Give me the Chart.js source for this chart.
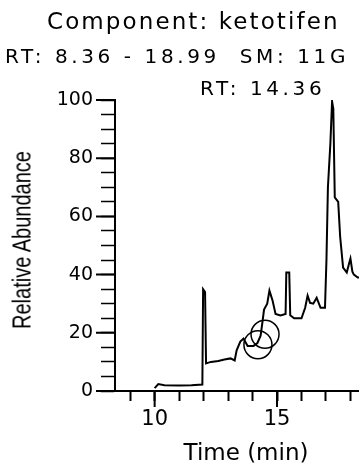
<!DOCTYPE html>
<html>
<head>
<meta charset="utf-8">
<script src="https://cdn.jsdelivr.net/npm/chart.js@4.4.1/dist/chart.umd.min.js"></script>
<style>
    body { margin: 0; background: #fff; }
    #wrap { position: relative; width: 359px; height: 464px; overflow: hidden; }
    .t { position: absolute; font-family: "DejaVu Sans", sans-serif; color: #000; line-height: 1; white-space: pre; }
    #ytitle {
        position: absolute; left: 22px; top: 240px;
        font-family: "Liberation Sans", sans-serif; font-size: 25px; line-height: 1; white-space: pre; color: #000;
        transform: translate(-50%, -50%) rotate(-90deg) scaleX(0.8);
    }
    #xtitle {
        position: absolute; left: 246px; top: 452px;
        font-family: "DejaVu Sans", sans-serif; font-size: 23px; line-height: 1; white-space: pre; color: #000;
        transform: translate(-50%, -50%);
    }
</style>
</head>
<body>
<div id="wrap">
    <canvas id="chrom" width="359" height="464"></canvas>
    <div class="t" style="left:47px;top:10px;font-size:23px;letter-spacing:2.1px">Component: ketotifen</div>
    <div class="t" style="left:5px;top:46px;font-size:20px;letter-spacing:3.6px">RT: 8.36 - 18.99  SM: 11G</div>
    <div class="t" style="left:200px;top:78px;font-size:20px;letter-spacing:3.6px">RT: 14.36</div>
    <div id="ytitle">Relative Abundance</div>
    <div id="xtitle">Time (min)</div>
</div>
<script>
// chromatogram trace
const timeMin = [10.0, 10.15, 10.4, 11.0, 11.5, 11.95, 11.98, 12.06, 12.1, 12.3, 12.6, 12.85, 13.1, 13.27,
    13.35, 13.5, 13.63, 13.8, 14.04, 14.2, 14.33, 14.41, 14.47, 14.6, 14.69, 14.82, 14.94, 15.14, 15.35,
    15.38, 15.5, 15.54, 15.7, 16.0, 16.15, 16.25, 16.35, 16.48, 16.62, 16.78, 16.96, 17.02, 17.08, 17.18,
    17.25, 17.3, 17.36, 17.5, 17.58, 17.7, 17.85, 17.95, 18.0, 18.08, 18.14, 18.3, 18.4];
const abundance = [1.0, 2.4, 2.0, 1.9, 2.0, 2.2, 35, 34, 9.5, 10.0, 10.3, 10.8, 11.2, 10.5,
    14, 17, 18, 15.5, 15.5, 16.5, 19, 24, 28, 30, 34.5, 31, 26.5, 26, 26.5,
    40.7, 40.7, 26, 25, 25, 28.6, 32.8, 30.3, 30, 32, 28.6, 28.6, 45, 70, 85,
    99.5, 97, 66.5, 65, 53, 42.4, 40.7, 44, 45.5, 41, 40, 39, 39];

// hand-drawn circle marks near RT 14.36
const markTime = [14.22, 14.51];
const markAbund = [15.9, 19.5];

const xTicks = [9, 10, 11, 12, 13, 14, 15, 16, 17, 18];
const xLabels = [10, 15];
const yTicks = [0, 5, 10, 15, 20, 25, 30, 35, 40, 45, 50, 55, 60, 65, 70, 75, 80, 85, 90, 95, 100];
const yLabels = [0, 20, 40, 60, 80, 100];

const trace = timeMin.map((t, i) => ({ x: t, y: abundance[i] }));
const marks = markTime.map((t, i) => ({ x: t, y: markAbund[i] }));

// longer tick marks at the labelled values
const majorTicks = {
    id: "majorTicks",
    afterDraw(chart) {
        const { ctx, scales: { x, y } } = chart;
        ctx.save();
        ctx.strokeStyle = "#000";
        ctx.lineWidth = 2;
        ctx.beginPath();
        xLabels.forEach((v) => {
            const px = x.getPixelForValue(v);
            ctx.moveTo(px, x.top);
            ctx.lineTo(px, x.top + 16);
        });
        yLabels.forEach((v) => {
            const py = y.getPixelForValue(v);
            ctx.moveTo(y.right, py);
            ctx.lineTo(y.right - 19, py);
        });
        ctx.stroke();
        ctx.restore();
    },
};

const ctx = document.getElementById("chrom").getContext("2d");
new Chart(ctx, {
    type: "scatter",
    data: {
        datasets: [
            {
                data: trace,
                showLine: true,
                borderColor: "#000",
                borderWidth: 2,
                pointRadius: 0,
                tension: 0,
            },
            {
                data: marks,
                showLine: false,
                pointRadius: 14,
                pointBorderWidth: 1.5,
                pointBorderColor: "#000",
                pointBackgroundColor: "rgba(0,0,0,0)",
                clip: false,
            },
        ],
    },
    plugins: [majorTicks],
    options: {
        responsive: false,
        animation: false,
        events: [],
        layout: { autoPadding: false, padding: { top: 100, right: 0, bottom: 0, left: 0 } },
        plugins: { legend: { display: false }, tooltip: { enabled: false } },
        scales: {
            x: {
                type: "linear",
                min: 8.38,
                max: 18.35,
                afterBuildTicks: (s) => { s.ticks = xTicks.map((v) => ({ value: v })); },
                afterFit: (s) => { s.height = 73; s.paddingLeft = 0; s.paddingRight = 0; },
                border: { display: true, color: "#000", width: 2 },
                grid: { drawOnChartArea: false, tickLength: 10, tickWidth: 2, tickColor: "#000" },
                ticks: {
                    color: "#000",
                    autoSkip: false,
                    maxRotation: 0,
                    padding: 6,
                    font: { family: "DejaVu Sans", size: 21 },
                    callback: (v) => (xLabels.includes(v) ? String(v) : ""),
                },
            },
            y: {
                min: 0,
                max: 100,
                afterBuildTicks: (s) => { s.ticks = yTicks.map((v) => ({ value: v })); },
                afterFit: (s) => { s.width = 115; },
                border: { display: true, color: "#000", width: 2 },
                grid: { drawOnChartArea: false, tickLength: 14, tickWidth: 1.5, tickColor: "#000" },
                ticks: {
                    color: "#000",
                    autoSkip: false,
                    padding: 8,
                    font: { family: "DejaVu Sans", size: 19 },
                    callback: (v) => (yLabels.includes(v) ? String(v) : ""),
                },
            },
        },
    },
});
</script>
</body>
</html>
